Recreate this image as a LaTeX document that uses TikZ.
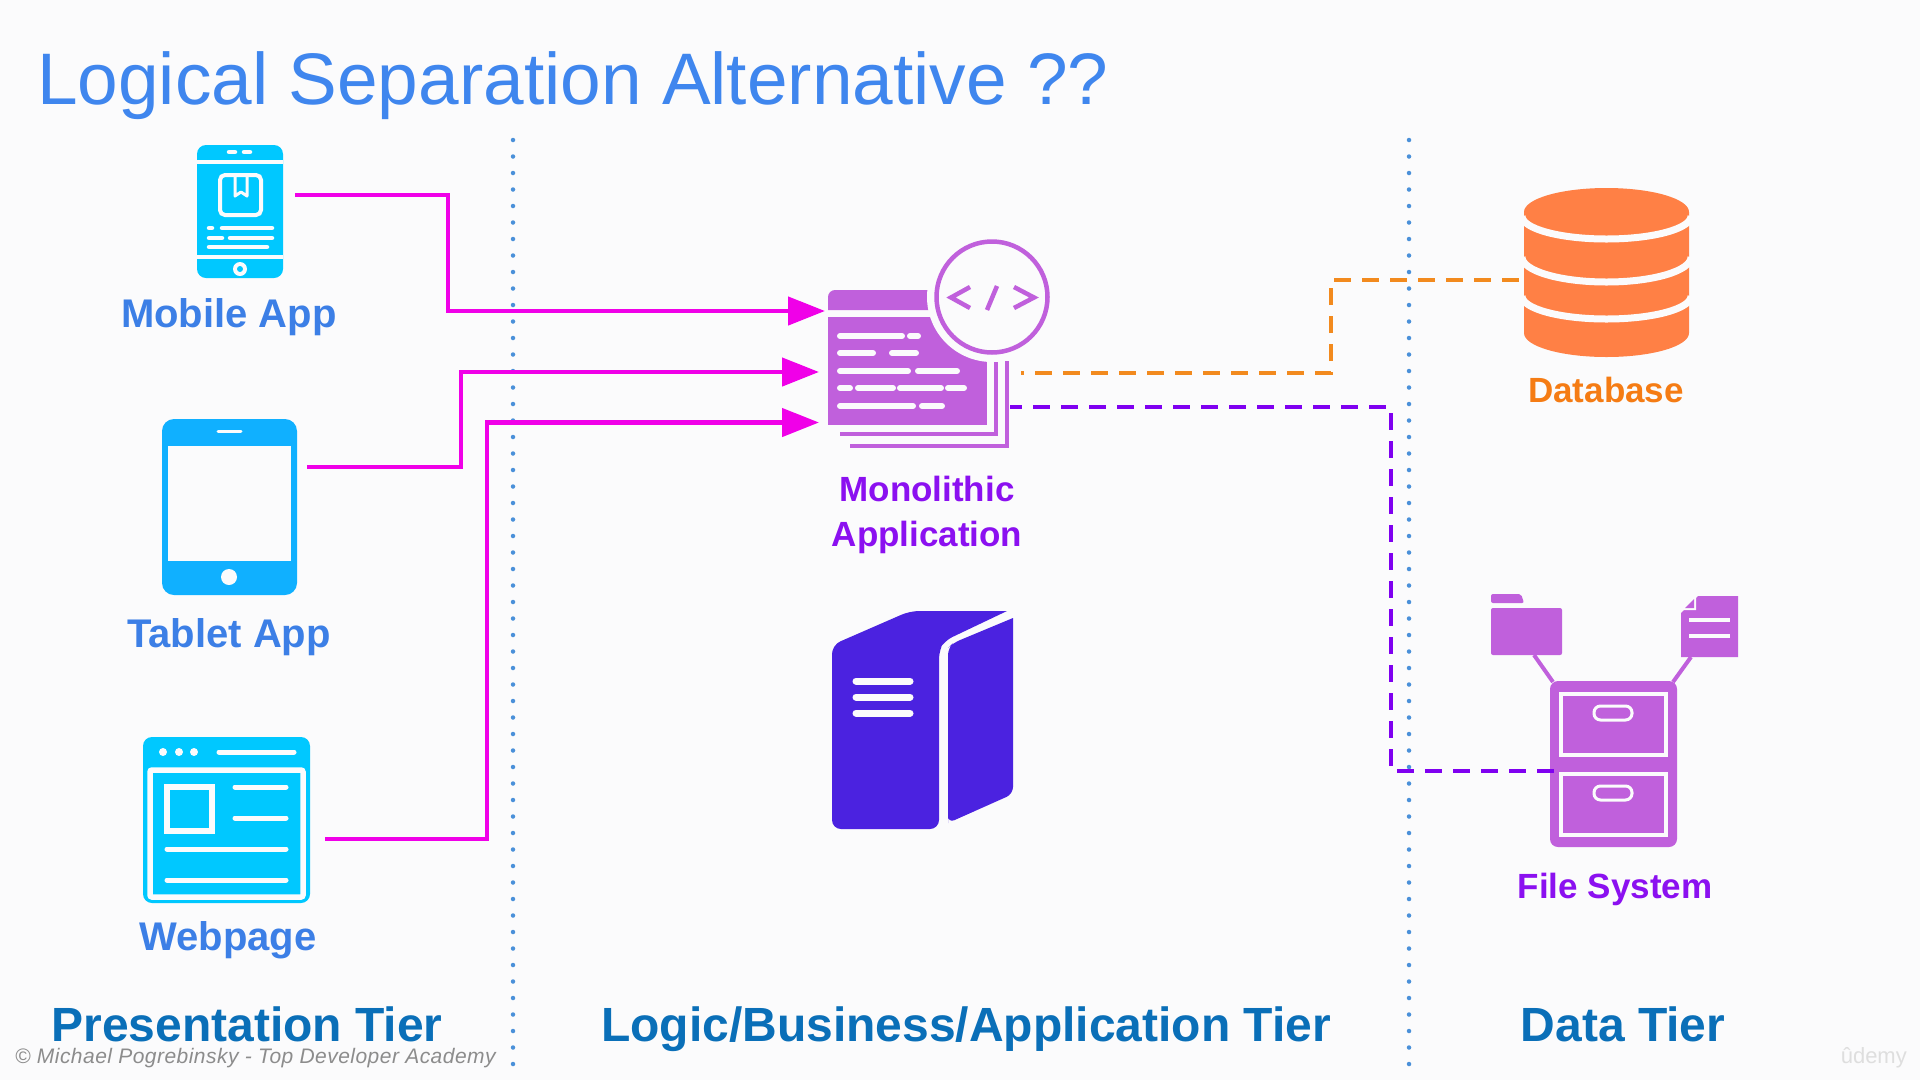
\documentclass[tikz,border=0pt]{standalone}
\usepackage{fontspec}
\setmainfont{Liberation Sans}
\usetikzlibrary{arrows.meta}
\definecolor{bgc}{HTML}{FBFBFC}
\definecolor{cyanA}{HTML}{00C8FF}
\definecolor{cyanB}{HTML}{10B0FF}
\definecolor{orchid}{HTML}{C060DC}
\definecolor{indigoS}{HTML}{4B22E0}
\definecolor{dbor}{HTML}{FF8045}
\definecolor{titlec}{HTML}{3F86EE}
\definecolor{lblc}{HTML}{3C7FE6}
\definecolor{tierc}{HTML}{0A6FB8}
\definecolor{purpl}{HTML}{8B10F0}
\definecolor{orng}{HTML}{F57C14}
\definecolor{magn}{HTML}{F000E8}
\definecolor{dashp}{HTML}{7F00F0}
\definecolor{dashor}{HTML}{F28A1E}
\definecolor{dotc}{HTML}{4A90D9}
\definecolor{copyc}{HTML}{8C8C8C}
\definecolor{udem}{HTML}{DEDEDE}
\tikzset{
  x=1pt,y=-1pt,
  txt/.style={inner sep=0pt,anchor=base,align=center},
  lblA/.style={txt,text=lblc,font=\bfseries\fontsize{40}{48}\selectfont},
  tier/.style={txt,text=tierc,font=\bfseries\fontsize{48}{58}\selectfont},
  wl/.style={draw=bgc,line width=#1,line cap=round},
  wl/.default=4,
  feed/.style={draw=magn,line width=4.5,-{Triangle[length=37,width=28]}},
  dashedO/.style={draw=dashor,line width=3.5,dash pattern=on 17pt off 11pt,dash phase=14pt},
  dashedP/.style={draw=dashp,line width=3.5,dash pattern=on 17pt off 11pt,dash phase=5pt},
  sep/.style={draw=dotc,line width=4.5,line cap=round,dash pattern=on 0pt off 16.5pt},
}
\begin{document}
\begin{tikzpicture}
\useasboundingbox (0,0) rectangle (1920,1080);
\fill[bgc] (0,0) rectangle (1920,1080);

% title
\node[inner sep=0pt,anchor=base west,text=titlec,font=\fontsize{73}{88}\selectfont] (title) at (37,104) {Logical Separation Alternative ??};

% separators
\coordinate (s1a) at (513,140); \coordinate (s1b) at (513,1075);
\coordinate (s2a) at (1409,140); \coordinate (s2b) at (1409,1075);
\draw[sep] (s1a) -- (s1b);
\draw[sep] (s2a) -- (s2b);

% mobile
\fill[cyanA,rounded corners=9] (197,145) rectangle (283,278);
\draw[wl=4,line cap=butt] (197,162) -- (283,162);
\draw[wl=4,line cap=butt] (197,257) -- (283,257);
\draw[wl=4.5] (229,152) -- (235,152);
\draw[wl=4.5] (244,152) -- (250,152);
\draw[wl=4,rounded corners=5] (220,175) rectangle (261,215);
\draw[wl=3,line cap=butt,line join=round] (235,175) -- (235,196) -- (241,192) -- (247,196) -- (247,175);
\draw[wl=4.5] (209,228) -- (212,228);
\draw[wl=4.5] (222,228) -- (272,228);
\draw[wl=4.5] (209,238) -- (222,238);
\draw[wl=4.5] (230,238) -- (272,238);
\draw[wl=4.5] (209,247) -- (267,247);
\fill[bgc] (240,269) circle (7);
\fill[cyanA] (240,269) circle (3);

% tablet
\fill[cyanB,rounded corners=12] (162,419) rectangle (297,595);
\fill[bgc] (168,446) rectangle (291,561);
\draw[wl=3] (218,431) -- (241,431);
\fill[bgc] (229,577) circle (8);

% webpage
\fill[cyanA,rounded corners=9] (143,737) rectangle (310,903);
\draw[wl=5.5,line cap=butt,rounded corners=2] (150,770) rectangle (303,897);
\foreach \px in {163,179,194} \fill[bgc] (\px,752) circle (4);
\draw[wl=5] (219,752) -- (294,752);
\draw[wl=5.5,line cap=butt] (167,787) rectangle (212,831);
\draw[wl=5] (235,787) -- (286,787);
\draw[wl=5] (235,818) -- (286,818);
\draw[wl=5] (167,849) -- (286,849);
\draw[wl=5] (167,880) -- (286,880);

% monolithic application
\fill[orchid] (828,317) rectangle (987,425);
\fill[orchid] (828,310) [rounded corners=7] -- (828,290) [sharp corners] -- (945,290) -- (945,310) -- cycle;
\draw[orchid,line width=4] (840,434) -- (996,434) -- (996,362);
\draw[orchid,line width=4] (850,446) -- (1007,446) -- (1007,361);
\fill[bgc] (992,297) circle (65);
\draw[orchid,line width=4.5] (992,297) circle (55.5);
\draw[orchid,line width=4.5,line join=miter] (970,287) -- (951,297.5) -- (970,308);
\draw[orchid,line width=4.5] (997,286) -- (987,310);
\draw[orchid,line width=4.5,line join=miter] (1014,287) -- (1034,297.5) -- (1014,308);
\foreach \la/\ya/\lb in {840/336/902,910/336/918,840/353/873,892/353/916,840/371/908,918/371/957,840/388/850,858/388/893,900/388/941,948/388/964,840/406/913,922/406/942}
  \draw[wl=6] (\la,\ya) -- (\lb,\ya);

% server
\fill[indigoS] (1007,611) [rounded corners=9] -- (910,611) -- (832,645) -- (832,829) -- (939,829) -- (939,650) -- (944,641) [sharp corners] -- cycle;
\fill[indigoS] (1013,618) [rounded corners=7] -- (1013,794) -- (948,823) [sharp corners] -- (948,823) [rounded corners=7] -- (948,648) -- (953,643) [sharp corners] -- cycle;
\draw[wl=7] (856,681) -- (910,681);
\draw[wl=7] (856,697) -- (910,697);
\draw[wl=7] (856,713) -- (910,713);

% database
\fill[dbor] (1524,212) -- (1524,333) arc[start angle=180,end angle=0,x radius=82.5,y radius=24] -- (1689,212) -- cycle;
\fill[dbor] (1606.5,212) ellipse [x radius=82.5,y radius=24];
\draw[wl=7,line cap=butt] (1522,216) arc[start angle=180,end angle=0,x radius=84.5,y radius=23];
\draw[wl=7,line cap=butt] (1522,257) arc[start angle=180,end angle=0,x radius=84.5,y radius=25];
\draw[wl=7,line cap=butt] (1522,296) arc[start angle=180,end angle=0,x radius=84.5,y radius=23];

% file system
\draw[orchid,line width=4] (1534,655) -- (1553,682);
\draw[orchid,line width=4] (1691,657) -- (1673,682);
\fill[orchid,rounded corners=8] (1550,681) rectangle (1677,847);
\draw[wl=4,line cap=butt] (1561,694) rectangle (1666,755);
\draw[wl=4,line cap=butt] (1561,774) rectangle (1666,835);
\draw[wl=3,rounded corners=6.5] (1594,706) rectangle (1632,720);
\draw[wl=3,rounded corners=6.5] (1594,786) rectangle (1632,800);
\fill[orchid,rounded corners=2] (1491,594) -- (1521,594) -- (1524,603) -- (1491,603) -- cycle;
\fill[orchid,rounded corners=2] (1491,608) rectangle (1562,655);
\fill[orchid] (1698,596) -- (1738,596) -- (1738,657) -- (1681,657) -- (1681,613) -- cycle;
\fill[bgc] (1696,596) -- (1696,610) -- (1681,610) -- cycle;
\fill[orchid] (1694,599) -- (1694,608) -- (1685,608) -- cycle;
\draw[wl=3.5,line cap=butt] (1689,620) -- (1730,620);
\draw[wl=3.5,line cap=butt] (1689,636) -- (1730,636);

% connector anchors
\coordinate (mobOut) at (295,195);
\coordinate (tabOut) at (307,467);
\coordinate (webOut) at (325,839);
\coordinate (appIn1) at (825,311);
\coordinate (appIn2) at (819,372);
\coordinate (appIn3) at (819,422.5);
\coordinate (appOutO) at (1021,373);
\coordinate (appOutP) at (1010,407);
\coordinate (dbIn) at (1520,280);
\coordinate (fsIn) at (1557,771);
\draw[feed] (mobOut) -- (448,195) -- (448,311) -- (appIn1);
\draw[feed] (tabOut) -- (461,467) -- (461,372) -- (appIn2);
\draw[feed] (webOut) -- (487,839) -- (487,422.5) -- (appIn3);
\draw[dashedO] (appOutO) -- (1331,373) -- (1331,280) -- (dbIn);
\draw[dashedP] (appOutP) -- (1391,407) -- (1391,771) -- (fsIn);

% labels
\node[lblA] (lmob) at (229,327) {Mobile App};
\node[lblA] (ltab) at (229,647) {Tablet App};
\node[lblA] (lweb) at (228,950) {Webpage};
\node[txt,text=purpl,font=\bfseries\fontsize{35}{44.5}\selectfont] (lmono) at (927,546) {Monolithic\\[0pt]Application};
\node[txt,text=orng,font=\bfseries\fontsize{35}{42}\selectfont] (ldb) at (1606,402) {Database};
\node[txt,text=purpl,font=\bfseries\fontsize{35}{44}\selectfont] (lfs) at (1615,898) {File System};
\node[tier] (t1) at (247,1041) {Presentation Tier};
\node[tier] (t2) at (966,1041) {Logic/Business/Application Tier};
\node[tier] (t3) at (1623,1041) {Data Tier};
\node[inner sep=0pt,anchor=base west,text=copyc,font=\itshape\fontsize{21}{25}\selectfont\addfontfeature{LetterSpace=2.2}] (copy) at (15,1063) {© Michael Pogrebinsky - Top Developer Academy};
\node[inner sep=0pt,anchor=base east,text=udem,font=\fontsize{22}{28}\selectfont] (ud) at (1907,1063) {ûdemy};
\end{tikzpicture}
\end{document}
